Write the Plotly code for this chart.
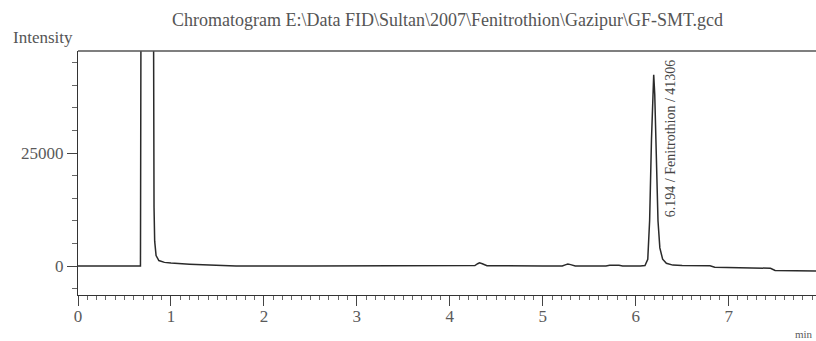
import plotly.graph_objects as go

# Retention time (min) and detector intensity
time_min = [0.00, 0.30, 0.672, 0.678, 0.812, 0.818, 0.825, 0.84, 0.87, 0.93, 1.00, 1.20, 1.35, 1.60, 1.70,
            2.50, 3.50, 4.20, 4.27, 4.30, 4.32, 4.35, 4.40, 5.00, 5.21, 5.25, 5.27, 5.30, 5.35,
            5.68, 5.72, 5.82, 5.86, 6.05,
            6.10, 6.13, 6.15, 6.17, 6.185, 6.194, 6.205, 6.22, 6.24, 6.26, 6.29, 6.33, 6.40, 6.50,
            6.80, 6.85, 7.30, 7.45, 7.50, 7.94]
intensity = [0, 0, 0, 60000, 60000, 13000, 5500, 2300, 1200, 800, 650, 400, 250, 100, 0,
             0, 0, 0, 100, 500, 700, 500, 50, 0, 0, 300, 450, 300, 0,
             0, 150, 150, 0, 0,
             100, 1500, 10000, 28000, 40000, 42300, 38000, 24000, 10000, 4000, 1500, 600, 200, 100,
             50, -250, -400, -500, -1000, -1100]

title_text = "Chromatogram E:\\Data FID\\Sultan\\2007\\Fenitrothion\\Gazipur\\GF-SMT.gcd"
peak_label = "6.194 / Fenitrothion / 41306"
y_tickvals = [0, 25000]
y_ticktext = ["0", "25000"]
x_tickvals = [0, 1, 2, 3, 4, 5, 6, 7]

FONT = "Liberation Serif"
GREY = "#5a5a5a"

fig = go.Figure()
fig.add_trace(go.Scatter(x=time_min, y=intensity, mode="lines",
                         line=dict(color="#2a2a2a", width=1.5), hoverinfo="skip",
                         showlegend=False))

fig.update_layout(
    width=816, height=341,
    margin=dict(l=78, r=0, t=51, b=46, autoexpand=False),
    paper_bgcolor="white", plot_bgcolor="white",
    font=dict(family=FONT, color=GREY, size=12),
    showlegend=False,
    xaxis=dict(range=[0, 7.94], showgrid=False, zeroline=False, automargin=False,
               showline=True, linecolor="#333333", linewidth=1,
               tickvals=x_tickvals, ticks="outside", ticklen=10, tickcolor="#444444",
               ticklabelstandoff=-4,
               tickfont=dict(family=FONT, size=17, color=GREY),
               minor=dict(dtick=0.1, tick0=0, ticks="outside", ticklen=4, tickcolor="#666666")),
    yaxis=dict(range=[-6416, 47566], showgrid=False, zeroline=False, automargin=False,
               showline=True, linecolor="#333333", linewidth=1,
               tickvals=y_tickvals, ticktext=y_ticktext, ticks="outside", ticklen=10,
               tickcolor="#444444", tickfont=dict(family=FONT, size=17, color=GREY),
               minor=dict(dtick=5000, tick0=0, ticks="outside", ticklen=5, tickcolor="#666666")),
    shapes=[dict(type="line", xref="paper", yref="paper", x0=0, x1=1, y0=1, y1=1,
                 line=dict(color="#555555", width=1.5))],
    annotations=[
        dict(text=title_text, xref="paper", yref="paper", x=0.501, y=1.127,
             showarrow=False, xanchor="center", yanchor="middle",
             font=dict(family=FONT, size=18, color="#555555")),
        dict(text="Intensity", xref="paper", yref="paper", x=-0.047, y=1.057,
             showarrow=False, xanchor="center", yanchor="middle",
             font=dict(family=FONT, size=17, color="#555555")),
        dict(text="min", xref="paper", yref="paper", x=0.984, y=-0.160,
             showarrow=False, xanchor="center", yanchor="middle",
             font=dict(family=FONT, size=11, color=GREY)),
        dict(text=peak_label, x=6.37, y=28300, xref="x", yref="y", textangle=-90,
             showarrow=False, xanchor="center", yanchor="middle",
             font=dict(family=FONT, size=14, color="#444444")),
    ],
)

fig.write_html("out.html", config={"displayModeBar": False},
               post_script="document.body.style.margin='0';document.body.style.overflow='hidden';")
